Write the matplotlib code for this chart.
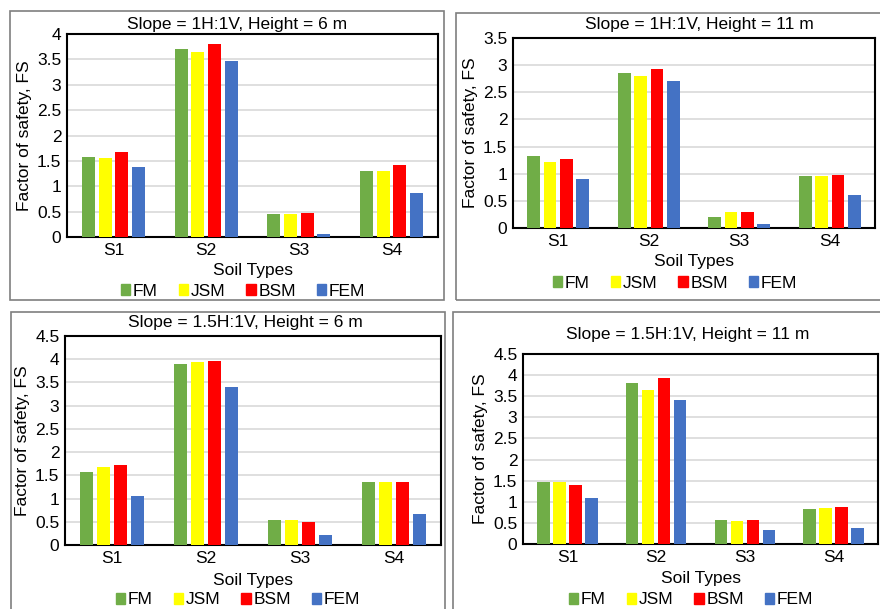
import numpy as np
import matplotlib
matplotlib.use("Agg")
import matplotlib.pyplot as plt
from matplotlib.patches import Rectangle, Patch

plt.rcParams['font.family'] = ['Liberation Sans', 'DejaVu Sans']

soils = ['S1', 'S2', 'S3', 'S4']
methods = ['FM', 'JSM', 'BSM', 'FEM']
colors = ['#70AD47', '#FFFF00', '#FF0000', '#4472C4']

titles = ['Slope = 1H:1V, Height = 6 m', 'Slope = 1H:1V, Height = 11 m',
          'Slope = 1.5H:1V, Height = 6 m', 'Slope = 1.5H:1V, Height = 11 m']

# FS values, one list per method (S1..S4)
fs_1h_6m = {'FM': [1.57, 3.70, 0.45, 1.31],
            'JSM': [1.55, 3.65, 0.45, 1.31],
            'BSM': [1.68, 3.80, 0.47, 1.42],
            'FEM': [1.38, 3.46, 0.05, 0.86]}
fs_1h_11m = {'FM': [1.33, 2.86, 0.20, 0.96],
             'JSM': [1.22, 2.80, 0.29, 0.96],
             'BSM': [1.28, 2.93, 0.29, 0.98],
             'FEM': [0.90, 2.70, 0.07, 0.60]}
fs_15h_6m = {'FM': [1.58, 3.89, 0.53, 1.35],
             'JSM': [1.67, 3.93, 0.53, 1.36],
             'BSM': [1.73, 3.96, 0.50, 1.35],
             'FEM': [1.05, 3.40, 0.21, 0.67]}
fs_15h_11m = {'FM': [1.48, 3.82, 0.58, 0.83],
              'JSM': [1.48, 3.64, 0.55, 0.85],
              'BSM': [1.40, 3.92, 0.58, 0.87],
              'FEM': [1.09, 3.40, 0.33, 0.37]}
ymaxes = [4, 3.5, 4.5, 4.5]

W, H = 880, 609
fig = plt.figure(figsize=(W / 100, H / 100), dpi=100)

def fx(px):
    return px / W

def fy(py):
    return 1 - py / H

# pixel layout: box (l, t, r, b), axes (l, t, r, b), title y, xtick-label, xlabel y, legend y
panels = [
    dict(box=(10, 11, 444, 300), ax=(67, 34, 438, 237), title=(237, 24), xl=271, leg=(243, 291)),
    dict(box=(456, 13, 884, 300), ax=(513, 38, 875, 228), title=(699, 24), xl=262, leg=(675, 283)),
    dict(box=(11, 312, 445, 615), ax=(65, 336, 441, 545), title=(245, 322), xl=580, leg=(238, 600)),
    dict(box=(453, 312, 884, 615), ax=(523, 354, 878, 544), title=(688, 335), xl=578, leg=(691, 600)),
]
data = [fs_1h_6m, fs_1h_11m, fs_15h_6m, fs_15h_11m]

fsz = 12.5
x = np.arange(len(soils))
bw, step = 0.14, 0.18
for p, d, t, ym in zip(panels, data, titles, ymaxes):
    l, tp, r, b = p['box']
    fig.patches.append(Rectangle((fx(l), fy(b)), fx(r - l), (b - tp) / H,
                                 transform=fig.transFigure, fill=False,
                                 edgecolor='#7f7f7f', linewidth=1.2))
    al, at, ar, ab = p['ax']
    ax = fig.add_axes([fx(al), fy(ab), fx(ar - al), (ab - at) / H])
    for i, m in enumerate(methods):
        ax.bar(x + (i - 1.5) * step, d[m], bw, color=colors[i], zorder=3)
    ax.set_xlim(-0.5, 3.5)
    ax.set_ylim(0, ym)
    ax.set_yticks(np.arange(0, ym + 0.01, 0.5))
    ax.set_yticklabels(['%g' % v for v in np.arange(0, ym + 0.01, 0.5)])
    ax.set_xticks(x)
    ax.set_xticklabels(soils)
    ax.tick_params(length=0, labelsize=fsz, pad=4)
    ax.grid(axis='y', color='#d9d9d9', linewidth=1.2, zorder=0)
    for s in ax.spines.values():
        s.set_linewidth(1.5)
        s.set_color('black')
    ax.set_ylabel('Factor of safety, FS', fontsize=fsz, labelpad=4)
    fig.text(fx(p['title'][0]), fy(p['title'][1]), t, ha='center', va='center', fontsize=fsz)
    fig.text(fx((al + ar) / 2), fy(p['xl']), 'Soil Types', ha='center', va='center', fontsize=fsz)
    handles = [Patch(color=c, label=m) for c, m in zip(colors, methods)]
    fig.legend(handles=handles, loc='center', ncol=4, frameon=False,
               bbox_to_anchor=(fx(p['leg'][0]), fy(p['leg'][1])),
               fontsize=fsz, handlelength=0.55, handleheight=0.55,
               handletextpad=0.15, columnspacing=1.2, borderpad=0, borderaxespad=0)

fig.savefig('out.png', dpi=100)
